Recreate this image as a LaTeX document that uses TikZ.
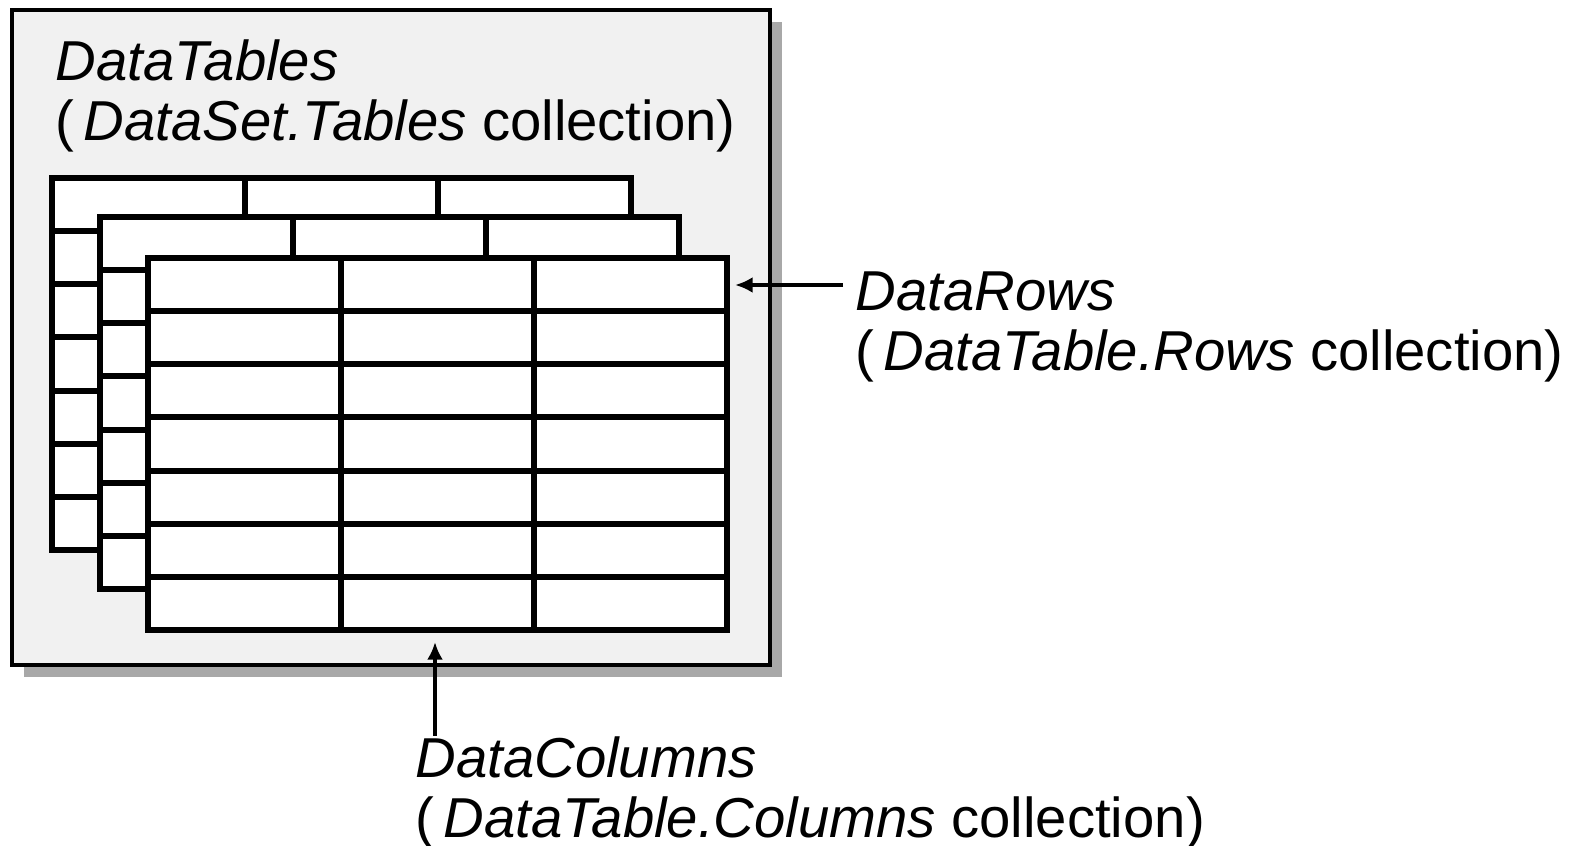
\documentclass[tikz,border=0pt]{standalone}
\usepackage{fontspec}
\setmainfont{Liberation Sans}
\usetikzlibrary{arrows.meta}
\definecolor{boxfill}{HTML}{F1F1F1}
\definecolor{shadowgray}{HTML}{A8A8A8}

\begin{document}
\begin{tikzpicture}[x=0.01cm, y=-0.01cm,
    tbl/.style={line width=1.7pt},
    lbl/.style={anchor=north west, inner sep=0pt, align=left, font=\fontsize{16}{17}\selectfont},
    arr/.style={line width=1.1pt, -{Latex[length=5pt,width=4.5pt]}}]
\useasboundingbox (0,0) rectangle (1578,846);

\fill[shadowgray] (24,22) rectangle (782,677);
\draw[line width=1.4pt, fill=boxfill] (12,10) rectangle (770,665);

\node[lbl] (tables) at (55,39) {\textit{DataTables}\\(\,\textit{DataSet.Tables} collection)};

\foreach \sx/\sy in {52/178, 100/217, 148/258} {
  \begin{scope}[shift={(\sx,\sy)}]
    \draw[tbl, fill=white] (0,0) rectangle (579,372);
    \foreach \r in {1,...,6}
      \draw[tbl] (0,\r*53.14) -- (579,\r*53.14);
    \foreach \c in {1,2}
      \draw[tbl] (\c*193,0) -- (\c*193,372);
  \end{scope}
}

\coordinate (rowtip) at (735,285);
\coordinate (coltip) at (435,642);

\node[lbl] (rows) at (855,271) {\textit{DataRows}\\(\,\textit{DataTable.Rows} collection)};
\node[lbl] (cols) at (415,736) {\textit{DataColumns}\\(\,\textit{DataTable.Columns} collection)};

\draw[arr] (rowtip -| rows.west) ++(-12,0) -- (rowtip);
\draw[arr] (cols.north -| coltip) -- (coltip);

\end{tikzpicture}
\end{document}
